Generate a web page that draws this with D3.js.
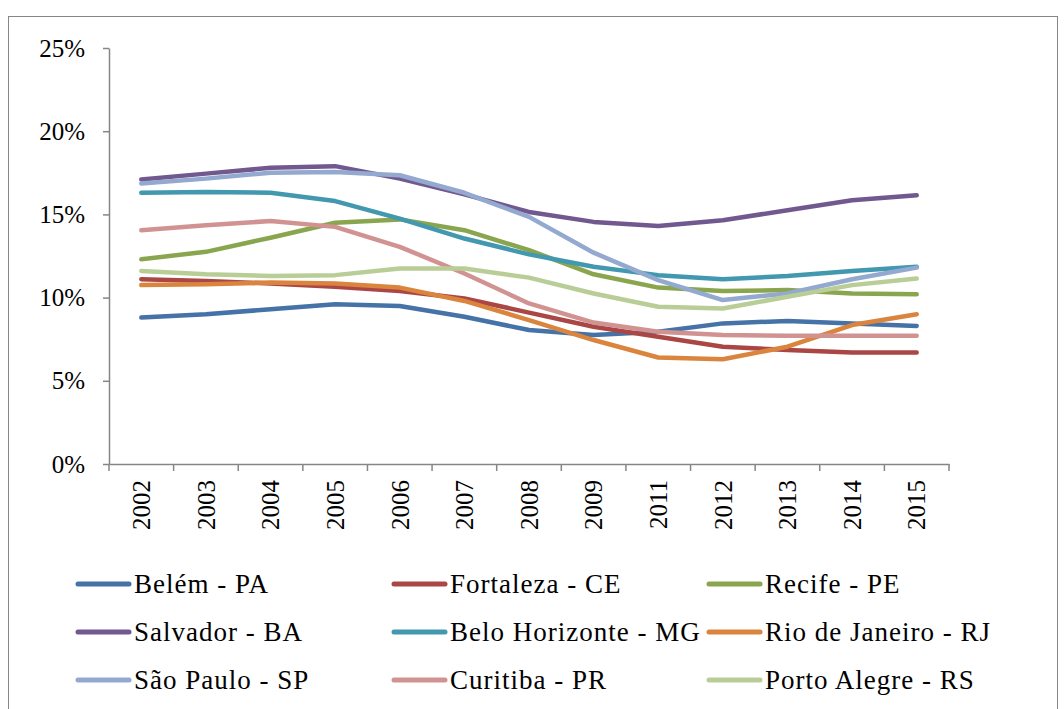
<!DOCTYPE html>
<html>
<head>
<meta charset="utf-8">
<script src="https://cdn.jsdelivr.net/npm/d3@7"></script>
<style>
    body { margin: 0; background: #fff; }
    #chart { width: 1064px; height: 709px; }
</style>
</head>
<body>
<div id="chart"></div>
<script>
// Categories (2010 is missing in the source)
const years = ['2002', '2003', '2004', '2005', '2006', '2007', '2008', '2009', '2011', '2012', '2013', '2014', '2015'];

// Series values, in percent
const belem = [8.8, 9.0, 9.3, 9.6, 9.5, 8.85, 8.05, 7.75, 7.95, 8.45, 8.6, 8.45, 8.3];
const fortaleza = [11.1, 11.0, 10.85, 10.65, 10.4, 9.95, 9.1, 8.25, 7.65, 7.05, 6.85, 6.7, 6.7];
const recife = [12.3, 12.75, 13.6, 14.5, 14.7, 14.05, 12.85, 11.4, 10.6, 10.4, 10.45, 10.25, 10.2];
const salvador = [17.1, 17.45, 17.8, 17.9, 17.15, 16.2, 15.15, 14.55, 14.3, 14.65, 15.25, 15.85, 16.15];
const beloHorizonte = [16.3, 16.35, 16.3, 15.8, 14.75, 13.55, 12.6, 11.85, 11.35, 11.1, 11.3, 11.6, 11.85];
const rioDeJaneiro = [10.75, 10.8, 10.9, 10.85, 10.6, 9.8, 8.65, 7.45, 6.4, 6.3, 7.05, 8.35, 9.0];
const saoPaulo = [16.85, 17.15, 17.5, 17.55, 17.35, 16.3, 14.85, 12.7, 11.05, 9.85, 10.25, 11.1, 11.8];
const curitiba = [14.05, 14.35, 14.6, 14.25, 13.05, 11.45, 9.65, 8.5, 7.95, 7.75, 7.7, 7.7, 7.7];
const portoAlegre = [11.6, 11.4, 11.3, 11.35, 11.75, 11.75, 11.2, 10.25, 9.45, 9.35, 10.05, 10.75, 11.15];

const seriesNames = ['Belém - PA', 'Fortaleza - CE', 'Recife - PE', 'Salvador - BA', 'Belo Horizonte - MG',
    'Rio de Janeiro - RJ', 'São Paulo - SP', 'Curitiba - PR', 'Porto Alegre - RS'];
const seriesValues = [belem, fortaleza, recife, salvador, beloHorizonte, rioDeJaneiro, saoPaulo, curitiba, portoAlegre];
const yTicks = [0, 0.05, 0.10, 0.15, 0.20, 0.25];

const colors = ['#4572A7', '#AA4643', '#89A54E', '#71588F', '#4198AF', '#DB843D', '#93A9CF', '#D19392', '#B9CD96'];

const width = 1064, height = 709;
const font = "'Liberation Serif', 'Times New Roman', serif";
const axisColor = '#868686';

const svg = d3.select('#chart')
    .append('svg')
    .attr('width', width)
    .attr('height', height)
    .style('font-family', font);

// Outer chart border
svg.append('rect')
    .attr('x', 8.5)
    .attr('y', 16.5)
    .attr('width', 1049)
    .attr('height', 720)
    .attr('fill', 'none')
    .attr('stroke', axisColor)
    .attr('stroke-width', 1);

// Scales
const x = d3.scaleBand()
    .domain(years)
    .range([109, 949])
    .padding(0);

const y = d3.scaleLinear()
    .domain([0, 0.25])
    .range([464, 48]);

// Y axis
svg.append('g')
    .attr('transform', 'translate(109,0)')
    .call(d3.axisLeft(y)
        .tickValues(yTicks)
        .tickFormat(d3.format('.0%'))
        .tickSizeInner(6)
        .tickSizeOuter(0)
        .tickPadding(18))
    .call(g => g.select('.domain').attr('stroke', axisColor).attr('stroke-width', 1.5))
    .call(g => g.selectAll('.tick line').attr('stroke', axisColor).attr('stroke-width', 1.5))
    .call(g => g.selectAll('text')
        .attr('font-family', font)
        .attr('font-size', '25px')
        .attr('fill', '#000'));

// X axis: labels centred in bands, tick marks on band edges
const xAxis = svg.append('g')
    .attr('transform', 'translate(0,464)')
    .call(d3.axisBottom(x).tickSize(0).tickPadding(0))
    .call(g => g.select('.domain').attr('stroke', axisColor).attr('stroke-width', 1.5));

xAxis.selectAll('.tick text')
    .attr('font-family', font)
    .attr('font-size', '25px')
    .attr('fill', '#000')
    .attr('transform', 'rotate(-90)')
    .attr('text-anchor', 'end')
    .attr('x', -16)
    .attr('y', 0)
    .attr('dy', '0.35em');

const edges = years.map(d => x(d)).concat([x.range()[1]]);
xAxis.selectAll('.edge')
    .data(edges)
    .enter()
    .append('line')
    .attr('class', 'edge')
    .attr('x1', d => d)
    .attr('x2', d => d)
    .attr('y1', 0)
    .attr('y2', 7)
    .attr('stroke', axisColor)
    .attr('stroke-width', 1.5);

// Lines
const line = d3.line()
    .x((d, i) => x(years[i]) + x.bandwidth() / 2)
    .y(d => y(d / 100));

seriesValues.forEach((vals, i) => {
    svg.append('path')
        .datum(vals)
        .attr('fill', 'none')
        .attr('stroke', colors[i])
        .attr('stroke-width', 4.5)
        .attr('stroke-linejoin', 'round')
        .attr('stroke-linecap', 'round')
        .attr('d', line);
});

// Legend: 3 columns, 3 rows
const legendCols = [76, 392, 707];
const legendRows = [584, 632, 680];
const legend = svg.append('g');
seriesNames.forEach((name, i) => {
    const item = legend.append('g')
        .attr('transform', `translate(${legendCols[i % 3]},${legendRows[Math.floor(i / 3)]})`);
    item.append('line')
        .attr('x1', 2)
        .attr('x2', 53)
        .attr('y1', 0)
        .attr('y2', 0)
        .attr('stroke', colors[i])
        .attr('stroke-width', 5)
        .attr('stroke-linecap', 'round');
    item.append('text')
        .attr('x', 58)
        .attr('y', 0)
        .attr('dy', '0.35em')
        .attr('font-size', '27px')
        .attr('letter-spacing', '1px')
        .attr('fill', '#000')
        .text(name);
});
</script>
</body>
</html>
